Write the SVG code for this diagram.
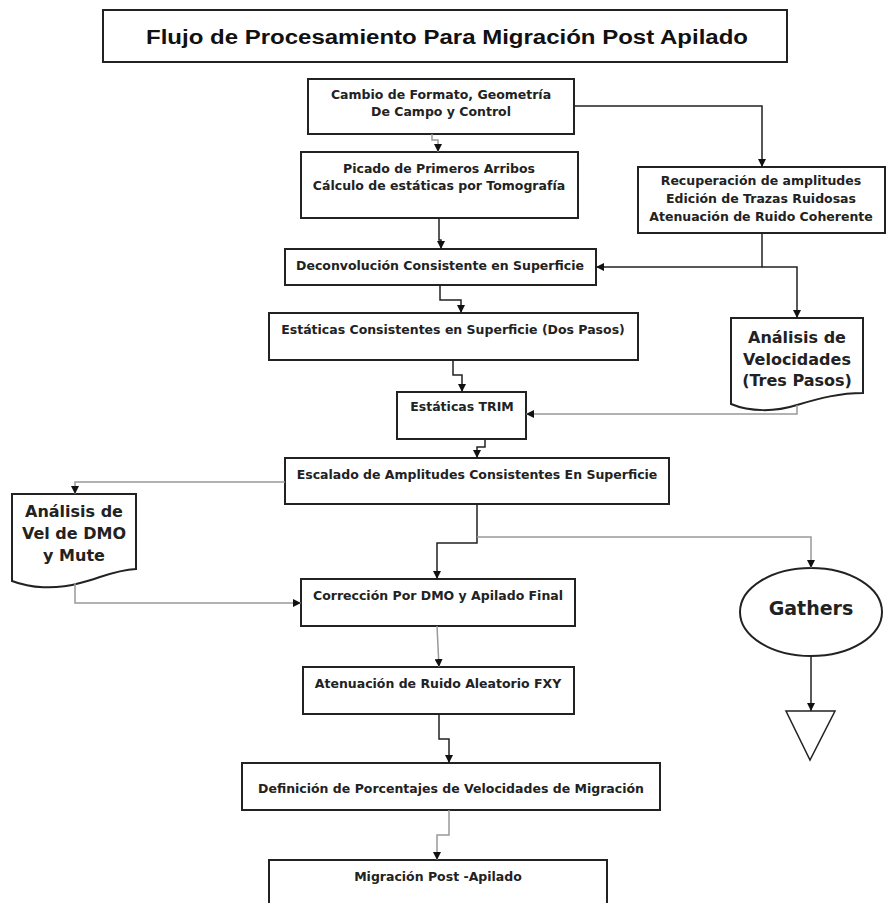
<svg xmlns="http://www.w3.org/2000/svg" width="890" height="903" viewBox="0 0 890 903">
<style>
.box{fill:#fff;stroke:#222;stroke-width:2}
.t{font-family:"DejaVu Sans",Verdana,sans-serif;font-weight:bold;font-size:12.5px;fill:#222;text-anchor:middle}
.tb{font-family:"DejaVu Sans",Verdana,sans-serif;font-weight:bold;font-size:16px;fill:#222;text-anchor:middle}
.title{font-family:"Liberation Sans",Arial,sans-serif;font-weight:bold;font-size:20px;fill:#111;text-anchor:middle}
.c{fill:none;stroke:#222;stroke-width:1.5}
.g{fill:none;stroke:#999;stroke-width:1.5}
</style>
<defs>
<marker id="ah" viewBox="0 0 10 10" refX="10" refY="5" markerWidth="8" markerHeight="8" markerUnits="userSpaceOnUse" orient="auto">
<path d="M0,0 L10,5 L0,10 Z" fill="#111"/>
</marker>
</defs>
<g id="title"><rect class="box" x="103" y="10" width="684" height="52"/><text class="title" x="447" y="44" textLength="602" lengthAdjust="spacingAndGlyphs">Flujo de Procesamiento Para Migración Post Apilado</text></g>
<g id="n1"><rect class="box" x="308" y="79" width="266" height="55"/><text class="t" x="441" y="99">Cambio de Formato, Geometría</text><text class="t" x="441" y="116">De Campo y Control</text></g>
<g id="n2"><rect class="box" x="301" y="152" width="277" height="66"/><text class="t" x="439" y="173">Picado de Primeros Arribos</text><text class="t" x="439" y="190">Cálculo de estáticas por Tomografía</text></g>
<g id="n3"><rect class="box" x="638" y="167" width="247" height="66"/><text class="t" x="761" y="185">Recuperación de amplitudes</text><text class="t" x="761" y="203">Edición de Trazas Ruidosas</text><text class="t" x="761" y="221">Atenuación de Ruido Coherente</text></g>
<g id="n4"><rect class="box" x="285" y="249" width="311" height="36"/><text class="t" x="440" y="270">Deconvolución Consistente en Superficie</text></g>
<g id="n5"><rect class="box" x="269" y="313" width="369" height="47"/><text class="t" x="453" y="334">Estáticas Consistentes en Superficie (Dos Pasos)</text></g>
<g id="n6"><path class="box" d="M731,318 H863 V393 C840,393 820,398 797,405 C775,412 750,412 731,404 Z"/><text class="tb" x="797" y="343">Análisis de</text><text class="tb" x="797" y="365">Velocidades</text><text class="tb" x="797" y="386">(Tres Pasos)</text></g>
<g id="n7"><rect class="box" x="397" y="392" width="129" height="47"/><text class="t" x="462" y="411">Estáticas TRIM</text></g>
<g id="n8"><rect class="box" x="285" y="458" width="384" height="46"/><text class="t" x="477" y="479">Escalado de Amplitudes Consistentes En Superficie</text></g>
<g id="n9"><path class="box" d="M12,494 H136 V569 C115,570 100,578 80,583 C55,590 30,588 12,581 Z"/><text class="tb" x="74" y="517">Análisis de</text><text class="tb" x="74" y="539">Vel de DMO</text><text class="tb" x="74" y="561">y Mute</text></g>
<g id="n10"><rect class="box" x="301" y="579" width="274" height="47"/><text class="t" x="438" y="600">Corrección Por DMO y Apilado Final</text></g>
<g id="n11"><ellipse class="box" cx="811" cy="612" rx="71" ry="44"/><text class="tb" x="811" y="615" style="font-size:19px">Gathers</text></g>
<g id="n12"><rect class="box" x="303" y="667" width="271" height="47"/><text class="t" x="438" y="688">Atenuación de Ruido Aleatorio FXY</text></g>
<g id="n13"><path class="box" d="M786,711 H835 L810,760 Z" style="stroke-width:1.5"/></g>
<g id="n14"><rect class="box" x="242" y="763" width="418" height="47"/><text class="t" x="451" y="793">Definición de Porcentajes de Velocidades de Migración</text></g>
<g id="n15"><rect class="box" x="269" y="860" width="338" height="50"/><text class="t" x="438" y="881">Migración Post -Apilado</text></g>
<g id="connectors">
<path class="g" d="M432,134 V140 H438 V152" marker-end="url(#ah)"/>
<path class="c" d="M574,106 H762 V167" marker-end="url(#ah)"/>
<path class="c" d="M439,218 V240 H441 V249" marker-end="url(#ah)"/>
<path class="c" d="M762,233 V267 H596" marker-end="url(#ah)"/>
<path class="c" d="M762,267 H797 V318" marker-end="url(#ah)"/>
<path class="c" d="M440,285 V300 H461 V313" marker-end="url(#ah)"/>
<path class="c" d="M453,360 V375 H462 V392" marker-end="url(#ah)"/>
<path class="g" d="M797,405 V414 H526" marker-end="url(#ah)"/>
<path class="c" d="M485,439 V447 H477 V458" marker-end="url(#ah)"/>
<path class="g" d="M285,482 H75 V494" marker-end="url(#ah)"/>
<path class="c" d="M477,504 V543 H437 V579" marker-end="url(#ah)"/>
<path class="g" d="M477,537 H811 V568" marker-end="url(#ah)"/>
<path class="g" d="M75,583 V603 H301" marker-end="url(#ah)"/>
<path class="g" d="M437,626 L439,667" marker-end="url(#ah)"/>
<path class="c" d="M811,656 V711" marker-end="url(#ah)"/>
<path class="c" d="M439,714 V739 H449 V763" marker-end="url(#ah)"/>
<path class="g" d="M449,810 V835 H437 V860" marker-end="url(#ah)"/>
</g>
</svg>
